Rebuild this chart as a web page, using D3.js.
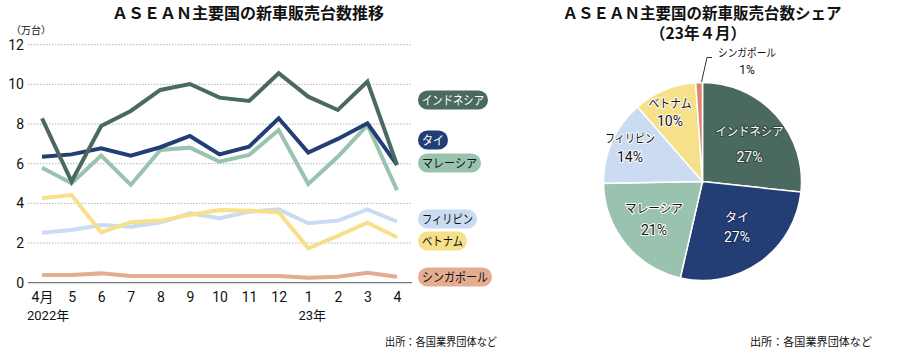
<!DOCTYPE html>
<html>
<head>
<meta charset="utf-8">
<script src="https://cdn.jsdelivr.net/npm/d3@7"></script>
<style>
  body { margin: 0; background: #fff; }
  svg { display: block; }
  text { font-family: "Noto Sans CJK JP", "Noto Sans", sans-serif; fill: #111; }
  .num { font-family: "Liberation Sans Narrow", "Roboto", "Noto Sans CJK JP", sans-serif; }
</style>
</head>
<body>
<div id="chart"></div>
<script>
// ---- data ----
const months = ["4月", "5", "6", "7", "8", "9", "10", "11", "12", "1", "2", "3", "4"];
const countries = ["インドネシア", "タイ", "マレーシア", "フィリピン", "ベトナム", "シンガポール"];

const indonesia   = [8.29, 5.1, 7.9, 8.66, 9.72, 10.02, 9.33, 9.16, 10.56, 9.38, 8.71, 10.14, 5.94];
const thailand    = [6.35, 6.47, 6.78, 6.41, 6.83, 7.40, 6.47, 6.86, 8.29, 6.56, 7.25, 8.04, 5.94];
const malaysia    = [5.80, 5.01, 6.41, 4.93, 6.69, 6.81, 6.10, 6.44, 7.70, 4.98, 6.35, 7.95, 4.67];
const philippines = [2.52, 2.66, 2.91, 2.82, 3.03, 3.50, 3.25, 3.58, 3.70, 3.00, 3.13, 3.70, 3.08];
const vietnam     = [4.26, 4.42, 2.54, 3.05, 3.13, 3.41, 3.67, 3.63, 3.55, 1.73, 2.36, 3.03, 2.29];
const singapore   = [0.39, 0.39, 0.47, 0.34, 0.34, 0.34, 0.34, 0.34, 0.34, 0.25, 0.30, 0.50, 0.30];

const yTicks = [0, 2, 4, 6, 8, 10, 12];

// share in April 2023 (%)
const shareValues = [26.7, 26.9, 21.1, 13.9, 10.3, 1.1];
const shareLabels = ["27%", "27%", "21%", "14%", "10%", "1%"];

const lineColors = ["#4a6a5f", "#233e75", "#99c3af", "#cbdcf2", "#f6e08a", "#e4ad92"];
const pieColors  = ["#4a6a5f", "#233e75", "#99c3af", "#cbdcf2", "#f6e08a", "#df8670"];

const series = [indonesia, thailand, malaysia, philippines, vietnam, singapore];

const width = 900, height = 351;

const svg = d3.select("#chart").append("svg")
    .attr("width", width)
    .attr("height", height);

// ---- line chart ----
const xScale = d3.scalePoint().domain(d3.range(months.length)).range([42, 397]);
const yScale = d3.scaleLinear().domain([0, 12]).range([282.7, 44.7]);

svg.append("text")
    .attr("x", 248).attr("y", 19)
    .attr("text-anchor", "middle")
    .style("font-size", "16px").style("font-weight", "bold")
    .text("ＡＳＥＡＮ主要国の新車販売台数推移");

svg.append("text")
    .attr("x", 11).attr("y", 34)
    .style("font-size", "10px")
    .text("（万台）");

// grid lines
svg.append("g")
    .selectAll("line")
    .data(yTicks.filter(d => d > 0))
    .join("line")
    .attr("x1", 28).attr("x2", 412)
    .attr("y1", d => yScale(d)).attr("y2", d => yScale(d))
    .attr("stroke", "#b5b5b5")
    .attr("stroke-width", 1)
    .attr("stroke-dasharray", "1.5,1.5");

// left axis labels
const yAxis = svg.append("g")
    .attr("transform", "translate(24,0)")
    .call(d3.axisLeft(yScale).tickValues(yTicks).tickSize(0).tickPadding(0));
yAxis.select(".domain").remove();
yAxis.selectAll("text")
    .attr("class", "num")
    .style("font-size", "14px")
    .attr("fill", "#111");

// bottom axis
const xAxis = svg.append("g")
    .attr("transform", `translate(0,${yScale(0)})`)
    .call(d3.axisBottom(xScale).tickFormat(i => months[i]).tickSize(0).tickPadding(9));
xAxis.select(".domain")
    .attr("d", "M28,0H412")
    .attr("stroke", "#777")
    .attr("stroke-width", 1.2);
xAxis.selectAll("text")
    .attr("class", "num")
    .style("font-size", "14px")
    .attr("fill", "#111");

svg.append("text").attr("class", "num")
    .attr("x", 27).attr("y", 320)
    .style("font-size", "13px")
    .text("2022年");
svg.append("text").attr("class", "num")
    .attr("x", xScale(9) + 4).attr("y", 320)
    .attr("text-anchor", "middle")
    .style("font-size", "13px")
    .text("23年");

// lines, back to front so Indonesia sits on top
const line = d3.line()
    .x((d, i) => xScale(i))
    .y(d => yScale(d));

const order = [5, 3, 4, 2, 1, 0];
svg.append("g")
    .selectAll("path")
    .data(order)
    .join("path")
    .attr("d", k => line(series[k]))
    .attr("fill", "none")
    .attr("stroke", k => lineColors[k])
    .attr("stroke-width", 4);

// legend pills
const legendY = [100, 140, 163, 219, 241, 277];
const legendW = [70, 30, 63, 59, 49, 74];
const legendText = ["#fff", "#fff", "#111", "#111", "#111", "#111"];

const legendItem = svg.append("g")
    .selectAll("g")
    .data(countries)
    .join("g")
    .attr("transform", (d, i) => `translate(418,${legendY[i]})`);

legendItem.append("rect")
    .attr("x", 0).attr("y", -9.5)
    .attr("width", (d, i) => legendW[i])
    .attr("height", 19)
    .attr("rx", 9.5)
    .attr("fill", (d, i) => lineColors[i]);

legendItem.append("text")
    .attr("x", 4)
    .attr("y", 4.5)
    .attr("textLength", (d, i) => legendW[i] - 8)
    .attr("lengthAdjust", "spacingAndGlyphs")
    .style("font-size", "12.5px")
    .style("fill", (d, i) => legendText[i])
    .text(d => d);

svg.append("text")
    .attr("x", 385).attr("y", 346)
    .attr("textLength", 112)
    .attr("lengthAdjust", "spacingAndGlyphs")
    .style("font-size", "11px")
    .text("出所：各国業界団体など");

// ---- pie chart ----
svg.append("text")
    .attr("x", 702).attr("y", 19)
    .attr("text-anchor", "middle")
    .style("font-size", "15.5px").style("font-weight", "bold")
    .text("ＡＳＥＡＮ主要国の新車販売台数シェア");
svg.append("text")
    .attr("x", 698).attr("y", 39)
    .attr("text-anchor", "middle")
    .style("font-size", "15.5px").style("font-weight", "bold")
    .text("（23年４月）");

const cx = 702.5, cy = 181.5, r = 99;
const pie = d3.pie().sort(null).value(d => d)(shareValues);
const arc = d3.arc().innerRadius(0).outerRadius(r);

const pieG = svg.append("g").attr("transform", `translate(${cx},${cy})`);
pieG.selectAll("path")
    .data(pie)
    .join("path")
    .attr("d", arc)
    .attr("fill", (d, i) => pieColors[i])
    .attr("stroke", "#fff")
    .attr("stroke-width", 1.5);

// label positions relative to the pie centre: [dx, name baseline, percent baseline]
const labelPos = [[47, -45.5, -19.5], [34.5, 40, 60.5], [-48.5, 31, 53.5], [-72.5, -39, -19.5], [-32.5, -74, -55.5]];
const labelW = [68, 24, 58, 50, 43];
const labelFill = ["#fff", "#fff", "#111", "#111", "#111"];
const labelHalo = ["#2f4640", "#1a2c55", "#fff", "#fff", "#fff"];

const pieLabels = pieG.selectAll(".pie-label")
    .data(labelPos)
    .join("g")
    .attr("class", "pie-label")
    .attr("transform", d => `translate(${d[0]},0)`);

pieLabels.append("text")
    .attr("text-anchor", "middle")
    .attr("y", d => d[1])
    .attr("textLength", (d, i) => labelW[i])
    .attr("lengthAdjust", "spacingAndGlyphs")
    .style("font-size", "12px")
    .style("fill", (d, i) => labelFill[i])
    .style("stroke", (d, i) => labelHalo[i])
    .style("stroke-width", 2)
    .style("paint-order", "stroke")
    .text((d, i) => countries[i]);

pieLabels.append("text")
    .attr("class", "num")
    .attr("text-anchor", "middle")
    .attr("y", d => d[2])
    .style("font-size", "14px")
    .style("fill", (d, i) => labelFill[i])
    .style("stroke", (d, i) => labelHalo[i])
    .style("stroke-width", 2)
    .style("paint-order", "stroke")
    .text((d, i) => shareLabels[i]);

// Singapore: outside label with leader line
svg.append("path")
    .attr("d", "M712,57.5H707L701.5,82")
    .attr("fill", "none")
    .attr("stroke", "#333")
    .attr("stroke-width", 1);
svg.append("text")
    .attr("x", 747).attr("y", 57)
    .attr("text-anchor", "middle")
    .attr("textLength", 58)
    .attr("lengthAdjust", "spacingAndGlyphs")
    .style("font-size", "11px")
    .text(countries[5]);
svg.append("text").attr("class", "num")
    .attr("x", 747).attr("y", 74)
    .attr("text-anchor", "middle")
    .style("font-size", "12px")
    .text(shareLabels[5]);

svg.append("text")
    .attr("x", 750).attr("y", 346)
    .attr("textLength", 122)
    .attr("lengthAdjust", "spacingAndGlyphs")
    .style("font-size", "11px")
    .text("出所：各国業界団体など");
</script>
</body>
</html>
